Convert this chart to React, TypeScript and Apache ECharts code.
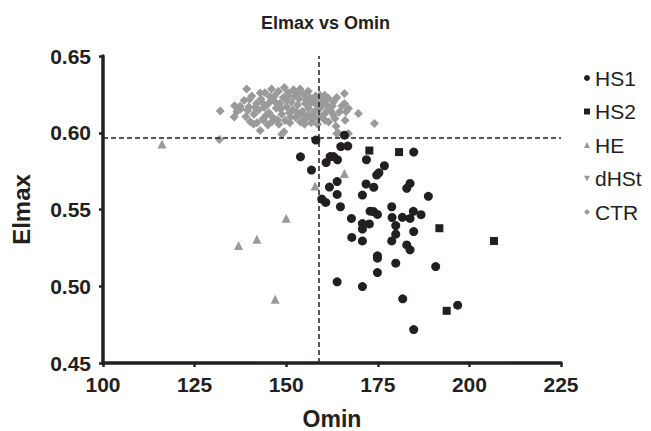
import React, { useEffect, useRef } from "react";
import * as echarts from "echarts";

const xTicks = [100, 125, 150, 175, 200, 225];
const yTicks = [0.45, 0.5, 0.55, 0.6, 0.65];
const refOmin = 159;
const refElmax = 0.597;

const hs1: number[][] = [
  [158.1, 0.5952], [165.9, 0.5984], [164.9, 0.591], [166.8, 0.5913], [153.9, 0.5843],
  [162.0, 0.5845], [162.9, 0.5845], [164.0, 0.5824], [160.9, 0.5806], [171.9, 0.5824],
  [184.8, 0.5874], [156.9, 0.5757], [176.8, 0.5785], [175.3, 0.5739], [174.7, 0.5724],
  [163.9, 0.5682], [161.8, 0.5646], [171.8, 0.5666], [173.9, 0.5645], [183.8, 0.567],
  [182.9, 0.5638], [163.9, 0.5598], [170.8, 0.5594], [188.8, 0.5586], [159.7, 0.5568],
  [160.8, 0.5546], [164.8, 0.5518], [172.9, 0.5489], [173.8, 0.5487], [174.9, 0.5468],
  [178.8, 0.5518], [184.7, 0.5488], [186.8, 0.5466], [167.8, 0.5442], [178.9, 0.5448],
  [181.7, 0.5449], [183.8, 0.5442], [170.8, 0.5408], [172.7, 0.5406], [170.8, 0.5373],
  [179.9, 0.5395], [184.8, 0.5356], [179.9, 0.5339], [167.9, 0.5318], [170.8, 0.5295],
  [178.8, 0.5295], [182.9, 0.5269], [183.8, 0.5237], [174.9, 0.5198], [174.9, 0.5183],
  [179.9, 0.515], [190.8, 0.5128], [174.9, 0.5089], [163.9, 0.5029], [170.8, 0.4998],
  [181.8, 0.4918], [196.8, 0.4877], [184.8, 0.4718],
];

const hs2: number[][] = [
  [172.7, 0.5884], [180.8, 0.5874], [191.8, 0.5378], [206.7, 0.5295], [193.8, 0.484],
];

const he: number[][] = [
  [116.1, 0.5926], [165.9, 0.5734], [157.9, 0.5653], [150.0, 0.5443], [142.0, 0.5306],
  [137.0, 0.5265], [147.0, 0.4916],
];

const dhst: number[][] = [];

const ctr: number[][] = [
  [132.0, 0.6142], [131.8, 0.5956], [139.2, 0.6285], [140.0, 0.6219], [142.9, 0.6259],
  [135.9, 0.6176], [137.4, 0.6173], [136.5, 0.6137], [135.8, 0.6103], [140.2, 0.6071],
  [141.1, 0.6056], [143.8, 0.6082], [142.9, 0.6014], [146.1, 0.6071], [148.8, 0.5991],
  [149.4, 0.6007], [159.2, 0.6245], [158.3, 0.6201], [163.8, 0.623], [165.9, 0.6256],
  [165.9, 0.619], [167.0, 0.6158], [169.7, 0.6126], [166.3, 0.6136], [160.6, 0.6082],
  [163.3, 0.6093], [166.1, 0.6082], [163.6, 0.6043], [164.2, 0.5999], [174.1, 0.606],
  [163.8, 0.5995], [167.0, 0.5995], [157.6, 0.6093], [154.9, 0.6082],
  [138.5, 0.621], [139.8, 0.617], [140.6, 0.624], [141.2, 0.612], [141.9, 0.619],
  [142.5, 0.615], [143.1, 0.622], [143.6, 0.609], [144.2, 0.626], [144.8, 0.618],
  [145.3, 0.613], [145.9, 0.621], [146.4, 0.61], [146.8, 0.624], [147.3, 0.616],
  [147.9, 0.627], [148.3, 0.619], [148.8, 0.612], [149.2, 0.623], [149.7, 0.608],
  [150.1, 0.617], [150.5, 0.626], [150.9, 0.613], [151.4, 0.62], [151.8, 0.615],
  [152.2, 0.624], [152.6, 0.61], [153.1, 0.618], [153.5, 0.622], [153.9, 0.607],
  [154.4, 0.614], [154.8, 0.625], [155.2, 0.619], [155.7, 0.611], [156.1, 0.616],
  [156.5, 0.623], [157.0, 0.609], [157.4, 0.62], [157.9, 0.614], [158.4, 0.618],
  [158.8, 0.61], [159.3, 0.616], [159.9, 0.621], [160.4, 0.612], [161.0, 0.618],
  [161.6, 0.607], [162.2, 0.614], [162.9, 0.62], [142.0, 0.6065], [145.0, 0.605],
  [148.0, 0.6055], [151.0, 0.6065], [155.0, 0.6055], [152.0, 0.628], [146.0, 0.6285],
  [156.0, 0.627], [149.5, 0.6295], [153.8, 0.6285], [139.0, 0.6105], [137.6, 0.6155],
  [144.0, 0.6165], [150.0, 0.621], [147.0, 0.62], [158.0, 0.624], [160.5, 0.6245],
  [161.5, 0.6225], [154.0, 0.612], [156.8, 0.6065], [158.6, 0.6055], [163.0, 0.611],
  [164.5, 0.6135], [165.2, 0.6175], [143.5, 0.6195], [145.6, 0.6235], [148.5, 0.6155],
  [151.2, 0.6105], [152.9, 0.6135], [155.5, 0.6215], [157.2, 0.6125], [159.6, 0.6105],
  [161.3, 0.6145], [162.6, 0.6175], [144.6, 0.6115], [147.6, 0.6085], [150.3, 0.6235],
  [153.2, 0.6265], [156.3, 0.6185], [141.5, 0.6165], [139.5, 0.6145], [160.0, 0.6185],
];

const FONT = "'Liberation Sans', Arial, sans-serif";
const DARK = "#231f20";
const GRAY = "#9a9a9a";
const DOWN_TRI = "path://M0,0 L10,0 L5,9 Z";

export default function App() {
  const ref = useRef<HTMLDivElement>(null);
  useEffect(() => {
    if (!ref.current) return;
    const chart = echarts.init(ref.current, null, { renderer: "svg" });
    chart.setOption({
      animation: false,
      backgroundColor: "#ffffff",
      title: {
        text: "Elmax vs Omin",
        left: "center",
        top: 9,
        textStyle: { fontFamily: FONT, fontWeight: "bold", fontSize: 18, color: DARK },
      },
      legend: {
        orient: "vertical",
        left: 579,
        top: 61,
        itemWidth: 6,
        itemHeight: 6,
        itemGap: 9.5,
        data: ["HS1", "HS2", "HE", "dHSt", "CTR"],
        textStyle: { fontFamily: FONT, fontSize: 21, color: DARK, lineHeight: 24 },
      },
      grid: {
        left: 103, right: 90, top: 56, bottom: 68,
        containLabel: false, outerBoundsMode: "none",
      },
      xAxis: {
        type: "value",
        min: xTicks[0],
        max: xTicks[xTicks.length - 1],
        interval: 25,
        name: "Omin",
        nameLocation: "middle",
        nameGap: 44,
        nameTextStyle: { fontFamily: FONT, fontWeight: "bold", fontSize: 23, color: DARK },
        axisLine: { show: true, lineStyle: { color: DARK, width: 3.5 } },
        axisTick: { show: true, length: 4, lineStyle: { color: DARK, width: 2.5 } },
        axisLabel: { fontFamily: FONT, fontWeight: "bold", fontSize: 21, color: DARK, margin: 11 },
        splitLine: { show: false },
      },
      yAxis: {
        type: "value",
        min: yTicks[0],
        max: yTicks[yTicks.length - 1],
        interval: 0.05,
        name: "Elmax",
        nameLocation: "middle",
        nameGap: 70,
        nameTextStyle: { fontFamily: FONT, fontWeight: "bold", fontSize: 24, color: DARK },
        axisLine: { show: true, lineStyle: { color: DARK, width: 3.5 } },
        axisTick: { show: true, length: 4, lineStyle: { color: DARK, width: 2.5 } },
        axisLabel: {
          fontFamily: FONT, fontWeight: "bold", fontSize: 21, color: DARK, margin: 12,
          formatter: (v: number) => v.toFixed(2),
        },
        splitLine: { show: false },
      },
      series: [
        {
          name: "CTR", type: "scatter", data: ctr, symbol: "diamond", symbolSize: 9,
          itemStyle: { color: GRAY, opacity: 1 },
        },
        {
          name: "HE", type: "scatter", data: he, symbol: "triangle", symbolSize: 9,
          itemStyle: { color: GRAY, opacity: 1 },
        },
        {
          name: "dHSt", type: "scatter", data: dhst, symbol: DOWN_TRI, symbolSize: 9,
          itemStyle: { color: GRAY, opacity: 1 },
        },
        {
          name: "HS2", type: "scatter", data: hs2, symbol: "rect", symbolSize: 8,
          itemStyle: { color: DARK, opacity: 1 },
        },
        {
          name: "HS1", type: "scatter", data: hs1, symbol: "circle", symbolSize: 9,
          itemStyle: { color: DARK, opacity: 1 },
          markLine: {
            silent: true,
            symbol: "none",
            precision: 4,
            label: { show: false },
            lineStyle: { color: DARK, type: [5, 3], width: 1.5 },
            data: [{ yAxis: refElmax }, { xAxis: refOmin }],
          },
        },
      ],
    });
    return () => chart.dispose();
  }, []);
  return (
    <div
      ref={ref}
      style={{ position: "fixed", left: 0, top: 0, width: 651, height: 431, background: "#fff" }}
    />
  );
}
